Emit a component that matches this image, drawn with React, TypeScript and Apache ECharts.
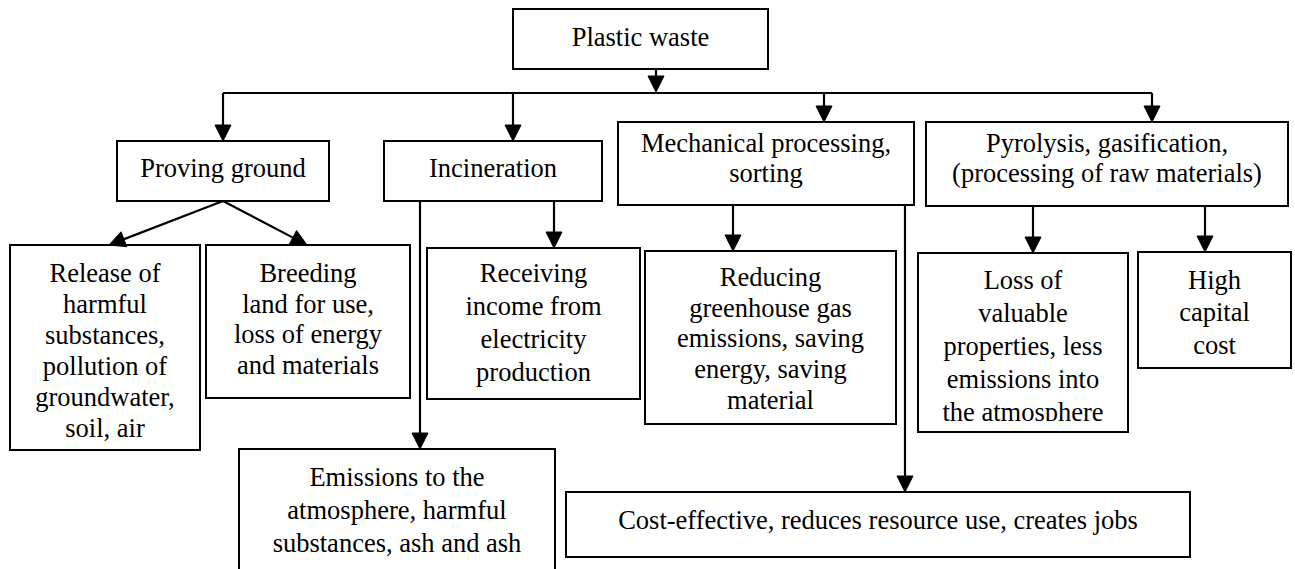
import React, { useEffect, useRef } from "react";
import * as echarts from "echarts";

// ---- content ----
const rootLabel = "Plastic waste";
const methodLabels = [
  "Proving ground",
  "Incineration",
  "Mechanical processing,\nsorting",
  "Pyrolysis, gasification,\n(processing of raw materials)",
];
const outcomeLabels = [
  "Release of\nharmful\nsubstances,\npollution of\ngroundwater,\nsoil, air",
  "Breeding\nland for use,\nloss of energy\nand materials",
  "Receiving\nincome from\nelectricity\nproduction",
  "Emissions to the\natmosphere, harmful\nsubstances, ash and ash",
  "Reducing\ngreenhouse gas\nemissions, saving\nenergy, saving\nmaterial",
  "Cost-effective, reduces resource use, creates jobs",
  "Loss of\nvaluable\nproperties, less\nemissions into\nthe atmosphere",
  "High\ncapital\ncost",
];
// which method each outcome belongs to
const outcomeParent = [0, 0, 1, 1, 2, 2, 3, 3];

// ---- layout (positions only) ----
type Box = { x: number; y: number; w: number; h: number; pad?: number; lh?: number; clip?: number };
const rootBox: Box = { x: 513, y: 9, w: 255, h: 60, pad: 13, lh: 30 };
const methodBoxes: Box[] = [
  { x: 117, y: 141, w: 212, h: 60, pad: 12, lh: 30 },
  { x: 384, y: 141, w: 218, h: 60, pad: 12, lh: 30 },
  { x: 618, y: 122, w: 296, h: 83, pad: 5.5, lh: 30 },
  { x: 926, y: 122, w: 362, h: 84, pad: 5.5, lh: 30 },
];
const outcomeBoxes: Box[] = [
  { x: 10, y: 245, w: 190, h: 205, pad: 12.5, lh: 31 },
  { x: 206, y: 245, w: 204, h: 153, pad: 12.5, lh: 30.7 },
  { x: 427, y: 248, w: 213, h: 151, pad: 8.5, lh: 33 },
  { x: 239, y: 449, w: 316, h: 140, pad: 11, lh: 33 },
  { x: 645, y: 251, w: 251, h: 173, pad: 10.5, lh: 30.7 },
  { x: 566, y: 492, w: 624, h: 65, pad: 12.5, lh: 30 },
  { x: 918, y: 253, w: 210, h: 179, pad: 10, lh: 33, clip: 421 },
  { x: 1138, y: 252, w: 153, h: 116, pad: 11.5, lh: 32.5 },
];
const busY = 93;
const rootStemX = 656;
const methodDropX = [223, 513, 824, 1152];
// connector start (x on parent bottom) and end (x on child top) for each outcome
const outcomeFromX = [223, 223, 554, 420, 733, 905, 1033, 1205];
const outcomeToX = [109, 307, 554, 420, 733, 905, 1033, 1205];

const FONT = "26.5px 'Liberation Serif', 'Times New Roman', Tinos, 'DejaVu Serif', serif";

function arrowHead(x1: number, y1: number, x2: number, y2: number) {
  const dx = x2 - x1, dy = y2 - y1;
  const len = Math.hypot(dx, dy) || 1;
  const ux = dx / len, uy = dy / len;
  const L = 16, W = 8;
  const bx = x2 - ux * L, by = y2 - uy * L;
  return {
    type: "polygon",
    shape: { points: [[x2, y2], [bx - uy * W, by + ux * W], [bx + uy * W, by - ux * W]] },
    style: { fill: "#000", stroke: "#000", lineWidth: 1 },
    z: 20,
  };
}

function arrow(x1: number, y1: number, x2: number, y2: number, head = true) {
  const els: any[] = [];
  const dx = x2 - x1, dy = y2 - y1;
  const len = Math.hypot(dx, dy) || 1;
  const ex = head ? x2 - (dx / len) * 10 : x2;
  const ey = head ? y2 - (dy / len) * 10 : y2;
  els.push({
    type: "line",
    shape: { x1, y1, x2: ex, y2: ey },
    style: { stroke: "#000", lineWidth: 2.2 },
    z: 20,
  });
  if (head) els.push(arrowHead(x1, y1, x2, y2));
  return els;
}

function boxEls(b: Box, text: string) {
  const els: any[] = [
    {
      type: "rect",
      shape: { x: b.x, y: b.y, width: b.w, height: b.h },
      style: { fill: "#fff", stroke: "none" },
      z: 1,
    },
    {
      type: "text",
      x: b.x + b.w / 2,
      y: b.y + (b.pad ?? 12),
      style: {
        text,
        font: FONT,
        fill: "#000",
        align: "center",
        verticalAlign: "top",
        lineHeight: b.lh ?? 30,
      },
      z: 5,
    },
  ];
  if (b.clip !== undefined) {
    els.push({
      type: "rect",
      shape: { x: b.x + 2, y: b.clip, width: b.w - 4, height: b.y + b.h - b.clip },
      style: { fill: "#fff" },
      z: 8,
    });
  }
  els.push({
    type: "rect",
    shape: { x: b.x, y: b.y, width: b.w, height: b.h },
    style: { fill: "none", stroke: "#000", lineWidth: 2 },
    z: 10,
  });
  return els;
}

export default function App() {
  const ref = useRef<HTMLDivElement>(null);
  useEffect(() => {
    if (!ref.current) return;
    const chart = echarts.init(ref.current, undefined, { renderer: "svg" });
    const elements: any[] = [];
    elements.push(...boxEls(rootBox, rootLabel));
    methodLabels.forEach((t, i) => elements.push(...boxEls(methodBoxes[i], t)));
    outcomeLabels.forEach((t, i) => elements.push(...boxEls(outcomeBoxes[i], t)));

    // root stem and bus
    elements.push(...arrow(rootStemX, rootBox.y + rootBox.h, rootStemX, busY - 1));
    elements.push({
      type: "line",
      shape: { x1: methodDropX[0], y1: busY, x2: methodDropX[methodDropX.length - 1], y2: busY },
      style: { stroke: "#000", lineWidth: 2.2 },
      z: 20,
    });
    methodDropX.forEach((x, i) => {
      elements.push(...arrow(x, busY, x, methodBoxes[i].y));
    });
    outcomeLabels.forEach((_, i) => {
      const p = methodBoxes[outcomeParent[i]];
      const c = outcomeBoxes[i];
      elements.push(...arrow(outcomeFromX[i], p.y + p.h, outcomeToX[i], c.y));
    });

    chart.setOption({
      animation: false,
      backgroundColor: "#fff",
      graphic: { elements },
    });
    return () => chart.dispose();
  }, []);
  return (
    <div
      ref={ref}
      style={{ position: "fixed", left: 0, top: 0, width: 1295, height: 569, background: "#fff" }}
    />
  );
}
